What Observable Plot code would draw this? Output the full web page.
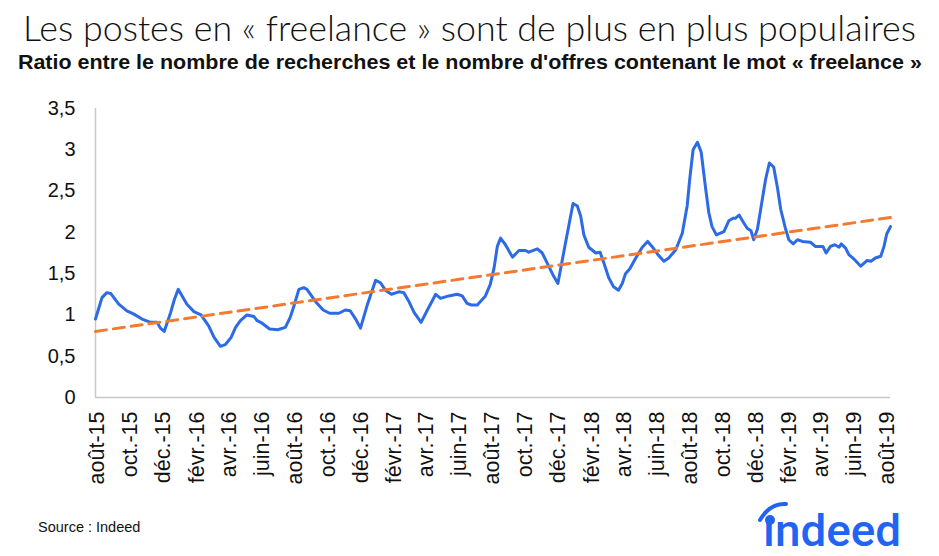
<!DOCTYPE html>
<html><head><meta charset="utf-8">
<script src="https://cdn.jsdelivr.net/npm/d3@7"></script>
<script src="https://cdn.jsdelivr.net/npm/@observablehq/plot@0.6"></script>
<style>
html,body{margin:0;padding:0;background:#fff;}
body{width:939px;height:556px;position:relative;overflow:hidden;font-family:"Liberation Sans",Arial,sans-serif;color:#111;}
.fit{position:absolute;left:0;width:939px;text-align:center;white-space:nowrap;}
.fit span{display:inline-block;transform-origin:center;}
#title{top:6px;font-family:Lato,Roboto,"Liberation Sans",sans-serif;font-weight:300;font-size:35px;line-height:42px;}
#subtitle{top:49px;font-family:"Liberation Sans Narrow","Liberation Sans",sans-serif;font-weight:bold;font-size:21px;line-height:26px;}
#chart{position:absolute;left:0;top:90px;}
#source{position:absolute;left:38px;top:518px;font-size:14.5px;line-height:18px;}
#logo{position:absolute;left:748px;top:498px;}
</style></head><body>
<div id="title" class="fit"><span data-w="893">Les postes en « freelance » sont de plus en plus populaires</span></div>
<div id="subtitle" class="fit"><span data-w="904">Ratio entre le nombre de recherches et le nombre d'offres contenant le mot « freelance »</span></div>
<div id="chart"></div>
<div id="source">Source : Indeed</div>
<div id="logo"><svg width="160" height="58" viewBox="0 0 160 58">
<path d="M12 22 Q22 5 38 6" fill="none" stroke="#2164f3" stroke-width="4" stroke-linecap="round"/>
<circle cx="22" cy="22" r="5" fill="#2164f3"/>
<text x="15" y="48" font-family="Roboto, 'Liberation Sans', sans-serif" font-weight="500" font-size="44" fill="#2164f3" textLength="138" lengthAdjust="spacingAndGlyphs">ındeed</text>
</svg></div>
<script>
// day offsets from 1 Aug 2015 and ratio values
const days = [-3,9,18,25,40,55,68,83,99,111,117,124,136,143,150,166,179,192,206,216,228,237,248,256,265,277,290,296,305,319,334,348,357,365,373,382,388,404,418,430,447,459,468,478,487,499,515,524,533,544,558,567,576,586,599,610,626,635,650,666,675,684,692,703,718,727,734,740,746,755,768,780,792,798,814,823,835,844,852,866,880,888,894,900,909,922,930,937,946,955,964,971,977,985,996,1008,1018,1026,1037,1048,1057,1070,1082,1091,1096,1102,1110,1117,1125,1131,1137,1145,1159,1168,1176,1180,1187,1196,1202,1209,1214,1221,1230,1236,1243,1251,1258,1264,1273,1279,1287,1295,1304,1319,1328,1342,1348,1356,1364,1372,1376,1384,1390,1399,1412,1424,1431,1439,1449,1455,1460,1467];
const values = [0.95,1.21,1.27,1.26,1.13,1.05,1.01,0.95,0.91,0.91,0.84,0.80,1.03,1.19,1.31,1.13,1.04,1.00,0.87,0.73,0.62,0.64,0.73,0.85,0.93,1.00,0.98,0.93,0.90,0.83,0.82,0.85,0.97,1.13,1.31,1.33,1.31,1.16,1.06,1.02,1.02,1.06,1.05,0.95,0.84,1.11,1.42,1.39,1.30,1.25,1.28,1.27,1.17,1.03,0.91,1.05,1.25,1.20,1.23,1.25,1.23,1.14,1.12,1.12,1.23,1.37,1.57,1.83,1.93,1.85,1.70,1.78,1.78,1.76,1.80,1.75,1.59,1.47,1.38,1.87,2.35,2.32,2.20,1.97,1.82,1.75,1.76,1.63,1.45,1.34,1.30,1.38,1.50,1.56,1.69,1.82,1.89,1.83,1.73,1.65,1.69,1.79,1.99,2.32,2.66,3.00,3.09,2.97,2.54,2.24,2.07,1.97,2.01,2.14,2.17,2.17,2.21,2.11,2.05,2.02,1.91,2.04,2.40,2.64,2.84,2.79,2.54,2.28,2.04,1.91,1.86,1.91,1.89,1.88,1.83,1.83,1.75,1.83,1.85,1.82,1.86,1.81,1.73,1.68,1.59,1.66,1.65,1.69,1.71,1.83,1.98,2.07];
const trendDays = [-3, 1467];
const trendValues = [0.80, 2.18];
const xDomainDays = [-3, 1467];
const tickDates = ["2015-08-01","2015-10-01","2015-12-01","2016-02-01","2016-04-01","2016-06-01","2016-08-01","2016-10-01","2016-12-01","2017-02-01","2017-04-01","2017-06-01","2017-08-01","2017-10-01","2017-12-01","2018-02-01","2018-04-01","2018-06-01","2018-08-01","2018-10-01","2018-12-01","2019-02-01","2019-04-01","2019-06-01","2019-08-01"];
const tickLabels = ["août-15","oct.-15","déc.-15","févr.-16","avr.-16","juin-16","août-16","oct.-16","déc.-16","févr.-17","avr.-17","juin-17","août-17","oct.-17","déc.-17","févr.-18","avr.-18","juin-18","août-18","oct.-18","déc.-18","févr.-19","avr.-19","juin-19","août-19"];
const yTicks = [0,0.5,1,1.5,2,2.5,3,3.5];
const yLabels = ["0","0,5","1","1,5","2","2,5","3","3,5"];

const start = Date.UTC(2015,7,1);
const toDate = d => new Date(start + d*864e5);
const data = days.map((d,i)=>({date: toDate(d), value: values[i]}));
const trend = trendDays.map((d,i)=>({date: toDate(d), value: trendValues[i]}));
const xTicks = tickDates.map(s => new Date(s+"T00:00:00Z"));
const xDomain = xDomainDays.map(toDate);

const chart = Plot.plot({
  width: 939, height: 410,
  marginLeft: 95, marginRight: 49, marginTop: 18, marginBottom: 103,
  x: {type: "utc", domain: xDomain},
  y: {domain: [0, 3.5]},
  style: {fontFamily: "'Liberation Sans', Arial, sans-serif", fontSize: "20px", color: "#111", background: "#fff"},
  marks: [
    Plot.axisY({ticks: yTicks, tickFormat: d => yLabels[yTicks.indexOf(d)], tickSize: 0, tickPadding: 20, label: null, fontSize: 20}),
    Plot.axisX({ticks: xTicks, tickFormat: d => tickLabels[xTicks.findIndex(t => +t === +d)], tickRotate: -90, tickSize: 0, tickPadding: 14, label: null, fontSize: 21.5}),
    Plot.ruleX([xDomain[0]], {y1: 0, y2: 3.5, stroke: "#c8c8c8", strokeWidth: 1.5}),
    Plot.ruleY([0], {stroke: "#c8c8c8", strokeWidth: 1.5}),
    Plot.line(data, {x: "date", y: "value", stroke: "#2c6be5", strokeWidth: 3, strokeLinejoin: "round"}),
    Plot.line(trend, {x: "date", y: "value", stroke: "#f47a32", strokeWidth: 3, strokeDasharray: "11,7"})
  ]
});
document.getElementById("chart").appendChild(chart);

document.querySelectorAll(".fit span").forEach(s => {
  const w = s.getBoundingClientRect().width;
  const target = +s.dataset.w;
  s.style.transform = `scaleX(${target / w})`;
});
</script>
</body></html>
